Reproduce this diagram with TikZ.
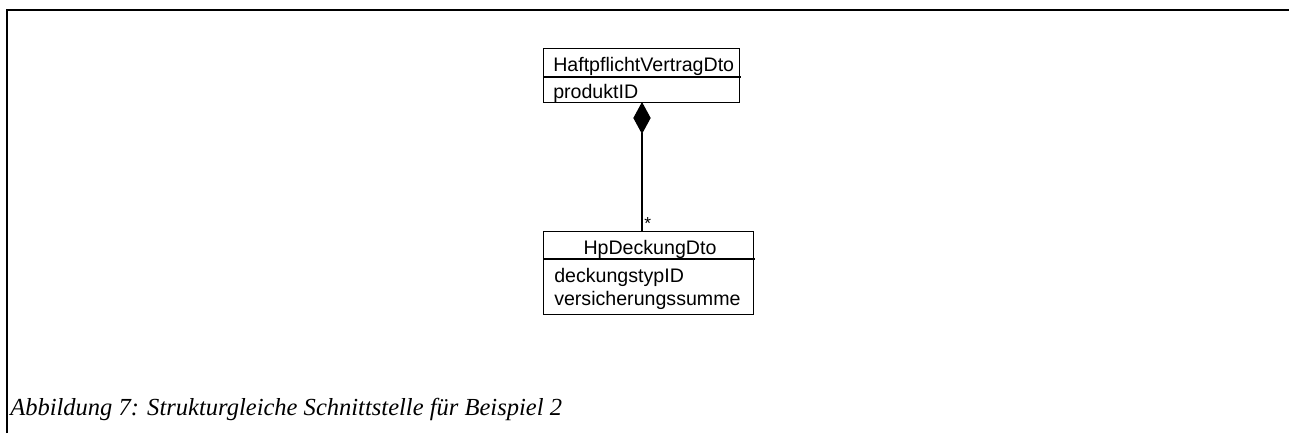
\documentclass[tikz,border=0pt]{standalone}
\usepackage{fontspec}
\setmainfont{Liberation Serif}
\setsansfont{Liberation Sans}
\usetikzlibrary{arrows.meta}
\begin{document}
\begin{tikzpicture}[x=0.75pt,y=-0.75pt,
  umlbox/.style={draw, line width=0.8pt, inner sep=0pt, anchor=north west},
  umltext/.style={font=\sffamily\fontsize{14.7}{17}\selectfont, inner sep=0pt},
  frameline/.style={line width=1.5pt},
  conn/.style={line width=0.8pt}]
\useasboundingbox (0,0) rectangle (1289,433);
% frame
\coordinate (fc) at (6.5,9.5);
\coordinate (fr) at (1289,9.5);
\coordinate (fb) at (6.5,433);
\draw[frameline] (fb) -- (fc) -- (fr);
% top class
\node[umlbox, minimum width=196*0.75pt, minimum height=54*0.75pt] (c1) at (543,48) {};
\coordinate (c1l) at (543,77);
\coordinate (c1r) at (741,77);
\draw[conn] (c1l) -- (c1r);
\node[umltext, anchor=base west] (c1n) at (553,71) {HaftpflichtVertragDto};
\node[umltext, anchor=base west] (c1a) at (553,98) {produktID};
% bottom class
\node[umlbox, minimum width=210*0.75pt, minimum height=83*0.75pt] (c2) at (543,231) {};
\coordinate (c2l) at (543,259);
\coordinate (c2r) at (755,259);
\draw[conn] (c2l) -- (c2r);
\node[umltext, anchor=base] (c2n) at (650,254) {HpDeckungDto};
\node[umltext, anchor=base west] (c2a) at (554,282) {deckungstypID};
\node[umltext, anchor=base west] (c2b) at (554,305) {versicherungssumme};
% composition
\coordinate (top) at (642,102);
\coordinate (bot) at (642,231);
\draw[conn, {Diamond[length=24pt,width=13pt]}-] (top) -- (bot);
\node[umltext, anchor=base west, font=\sffamily\fontsize{13}{14}\selectfont] (mult) at (644,229) {*};
% caption
\node[anchor=base west, inner sep=0pt, font=\itshape\fontsize{18.4}{21}\selectfont] (cap) at (10,415) {Abbildung 7: Strukturgleiche Schnittstelle für Beispiel 2};
\end{tikzpicture}
\end{document}
